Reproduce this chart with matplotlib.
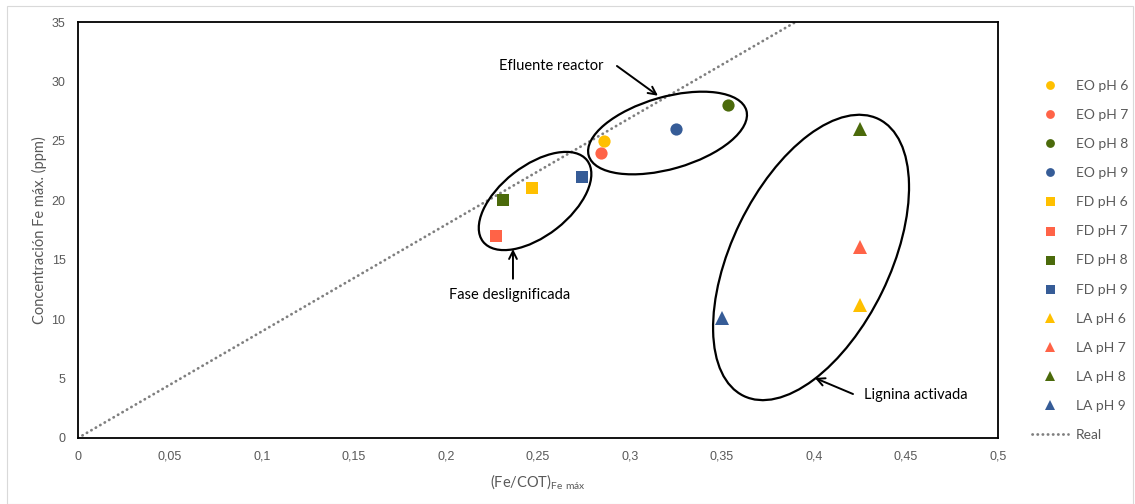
import matplotlib
matplotlib.use("Agg")
import matplotlib.pyplot as plt
from matplotlib.patches import Ellipse, Rectangle
from matplotlib.transforms import ScaledTranslation
from matplotlib.lines import Line2D

# ---- data ----
series_labels = ["EO pH 6", "EO pH 7", "EO pH 8", "EO pH 9",
                 "FD pH 6", "FD pH 7", "FD pH 8", "FD pH 9",
                 "LA pH 6", "LA pH 7", "LA pH 8", "LA pH 9"]
x_values = [0.286, 0.284, 0.353, 0.325,
            0.247, 0.227, 0.231, 0.274,
            0.425, 0.425, 0.425, 0.350]
y_values = [25.0, 24.0, 28.0, 26.0,
            21.0, 17.0, 20.0, 22.0,
            11.2, 16.1, 26.0, 10.1]
real_x = [0.0, 0.39]
real_y = [0.0, 35.0]
x_ticks = [0, 0.05, 0.1, 0.15, 0.2, 0.25, 0.3, 0.35, 0.4, 0.45, 0.5]
x_tick_labels = ["0", "0,05", "0,1", "0,15", "0,2", "0,25", "0,3", "0,35", "0,4", "0,45", "0,5"]
y_ticks = [0, 5, 10, 15, 20, 25, 30, 35]

colors = ["#FFC000", "#FF6347", "#4B6A0B", "#365C97"]
markers = {"EO": "o", "FD": "s", "LA": "^"}
msizes = {"EO": 8.8, "FD": 9.0, "LA": 9.5}

DOT = (0, (0.1, 1.75))
DOT_LW = 2.0

W, H = 1135, 504
fig = plt.figure(figsize=(W / 100, H / 100), dpi=100)
fig.patches.append(Rectangle((7 / W, 0), (W - 9) / W, (H - 6) / H, transform=fig.transFigure,
                             fill=False, edgecolor="#D9D9D9", linewidth=0.8))
ax = fig.add_axes([78 / W, 66 / H, 920 / W, 416 / H])

ax.plot(real_x, real_y, color="#7F7F7F", linestyle=DOT, linewidth=DOT_LW,
        dash_capstyle="round", label="Real", zorder=2)

handles = []
for i, lab in enumerate(series_labels):
    grp = lab[:2]
    c = colors[i % 4]
    h, = ax.plot([x_values[i]], [y_values[i]], linestyle="none", marker=markers[grp],
                 markersize=msizes[grp], color=c, markeredgewidth=0, label=lab, zorder=4)
    handles.append(h)

ax.set_xlim(0, 0.5)
ax.set_ylim(0, 35)
ax.set_xticks(x_ticks)
ax.set_xticklabels(x_tick_labels)
ax.set_yticks(y_ticks)
ax.tick_params(length=0, labelsize=9, labelcolor="#595959", pad=9)
for lbl in ax.get_xticklabels() + ax.get_yticklabels():
    lbl.set_fontfamily("Liberation Sans")
for s in ax.spines.values():
    s.set_linewidth(1.3)
    s.set_color("#000000")

ax.set_ylabel("Concentración Fe máx. (ppm)", family="Lato", fontsize=10.5, color="#595959", labelpad=3)
ax.set_xlabel(r"(Fe/COT)$_{\mathregular{Fe\ máx}}$", family="Lato", fontsize=10.5, color="#595959", labelpad=7)

# ellipses: center in data coords, size in pixels
ellipses = [((0.2484, 19.94), 132, 70, 38),
            ((0.3204, 25.66), 164, 72, 16),
            ((0.3984, 15.19), 308, 158, 64)]
for (cx, cy), w, h, ang in ellipses:
    tr = fig.dpi_scale_trans + ScaledTranslation(cx, cy, ax.transData)
    e = Ellipse((0, 0), w / 100, h / 100, angle=ang, transform=tr, fill=False,
                edgecolor="black", linewidth=1.6, zorder=3)
    ax.add_patch(e)

arrow = dict(arrowstyle="->", color="black", linewidth=1.4, mutation_scale=14, shrinkA=0, shrinkB=0)
ax.annotate("", xy=(0.3152, 28.8), xytext=(0.2929, 31.3), arrowprops=arrow)
ax.text(0.2571, 31.3, "Efluente reactor", family="Lato", fontsize=10.5, ha="center", va="center")
ax.annotate("", xy=(0.2364, 15.9), xytext=(0.2364, 13.4), arrowprops=arrow)
ax.text(0.2348, 12.0, "Fase deslignificada", family="Lato", fontsize=10.5, ha="center", va="center")
ax.annotate("", xy=(0.4005, 5.05), xytext=(0.4212, 3.7), arrowprops=arrow)
ax.text(0.4554, 3.62, "Lignina activada", family="Lato", fontsize=10.5, ha="center", va="center")

real_handle = Line2D([], [], color="#7F7F7F", linestyle=DOT, linewidth=DOT_LW,
                     dash_capstyle="round")
leg = fig.legend(handles + [real_handle], series_labels + ["Real"], loc="upper left",
                 bbox_to_anchor=(1032 / W, 1 - 80 / H), frameon=False,
                 prop={"family": "Lato", "size": 10}, labelspacing=1.23, markerscale=0.72,
                 handlelength=2.6, handletextpad=0.55, borderpad=0, borderaxespad=0)
for t in leg.get_texts():
    t.set_color("#595959")

fig.savefig("out.png", dpi=100)
